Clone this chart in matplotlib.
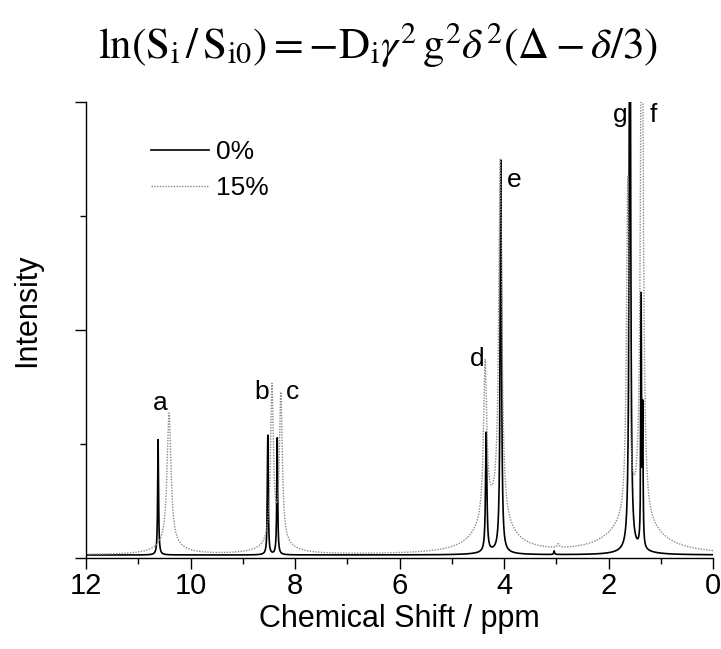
import numpy as np
import matplotlib
matplotlib.use("Agg")
import matplotlib.pyplot as plt
from matplotlib.ticker import MultipleLocator

plt.rcParams["font.family"] = ["Liberation Sans", "DejaVu Sans"]
plt.rcParams["mathtext.fontset"] = "stix"

# peak tables: position (ppm), height, half-width (ppm)
# last entries of each table are the broad feet under the peak clusters
pure_pos = [10.62, 8.52, 8.34, 4.34, 4.06, 1.59, 1.375, 1.345, 3.04, 4.20, 1.50]
pure_height = [0.253, 0.262, 0.256, 0.262, 0.86, 1.6, 0.54, 0.29, 0.008, 0.006, 0.010]
pure_hwhm = [0.010, 0.010, 0.010, 0.015, 0.015, 0.015, 0.008, 0.008, 0.010, 0.30, 0.30]

mix_pos = [10.41, 8.44, 8.27, 4.36, 4.07, 1.63, 1.36, 2.96, 10.41, 8.35, 4.20, 1.50]
mix_height = [0.29, 0.34, 0.32, 0.34, 0.78, 0.74, 1.30, 0.008, 0.02, 0.025, 0.09, 0.08]
mix_hwhm = [0.045, 0.033, 0.033, 0.037, 0.035, 0.030, 0.030, 0.020, 0.30, 0.30, 0.35, 0.50]

baseline = 0.0066

peak_labels = ["a", "b", "c", "d", "e", "g", "f"]
label_ppm = [10.58, 8.63, 8.04, 4.52, 3.81, 1.78, 1.15]
label_int = [0.34, 0.364, 0.364, 0.436, 0.829, 0.971, 0.971]

series_names = ["0%", "15%"]


def spectrum(ppm, pos, height, hwhm):
    s = np.full_like(ppm, baseline)
    for p, h, w in zip(pos, height, hwhm):
        s += h * w**2 / ((ppm - p) ** 2 + w**2)
    return s


ppm = np.linspace(0, 12, 30001)
pure = spectrum(ppm, pure_pos, pure_height, pure_hwhm)
mix = spectrum(ppm, mix_pos, mix_height, mix_hwhm)

fig = plt.figure(figsize=(7.21, 6.49), dpi=100)
ax = fig.add_axes([86 / 721, 91 / 649, 627 / 721, 456 / 649])

ax.plot(ppm, pure, color="black", lw=1.2, label=series_names[0])
ax.plot(ppm, mix, color="#8a8a8a", lw=1.0, ls=(0, (1, 1)), label=series_names[1])

for lab, x, y in zip(peak_labels, label_ppm, label_int):
    ax.text(x, y, lab, fontsize=19, ha="center", va="center")

ax.set_xlim(12, 0)
ax.set_ylim(0, 1.0)
ax.xaxis.set_major_locator(MultipleLocator(2))
ax.xaxis.set_minor_locator(MultipleLocator(1))
ax.yaxis.set_major_locator(MultipleLocator(0.5))
ax.yaxis.set_minor_locator(MultipleLocator(0.25))
ax.set_yticklabels([])
ax.tick_params(which="major", direction="out", length=8, width=1.0, labelsize=21, pad=2)
ax.tick_params(which="minor", direction="out", length=4, width=1.0)
for side in ("top", "right"):
    ax.spines[side].set_visible(False)
for side in ("left", "bottom"):
    ax.spines[side].set_linewidth(1.0)

ax.set_xlabel("Chemical Shift / ppm", fontsize=22, labelpad=3)
ax.set_ylabel("Intensity", fontsize=22)
ax.yaxis.set_label_coords(-0.070, 0.544)

ax.legend(loc="upper left", bbox_to_anchor=(0.065, 0.968), frameon=False,
          fontsize=19, handlelength=2.2, handletextpad=0.3, labelspacing=0.45)

fig.text(0.525, 0.93,
         r"$\ln\!\left(\mathrm{S}_{\mathrm{i}}\,/\,\mathrm{S}_{\mathrm{i0}}\right)"
         r"=-\mathrm{D}_{\mathrm{i}}\gamma^{2}\,\mathrm{g}^{2}\delta^{2}"
         r"\left(\Delta-\delta/3\right)$",
         fontsize=31, ha="center", va="center")

fig.savefig("out.png", dpi=100)
